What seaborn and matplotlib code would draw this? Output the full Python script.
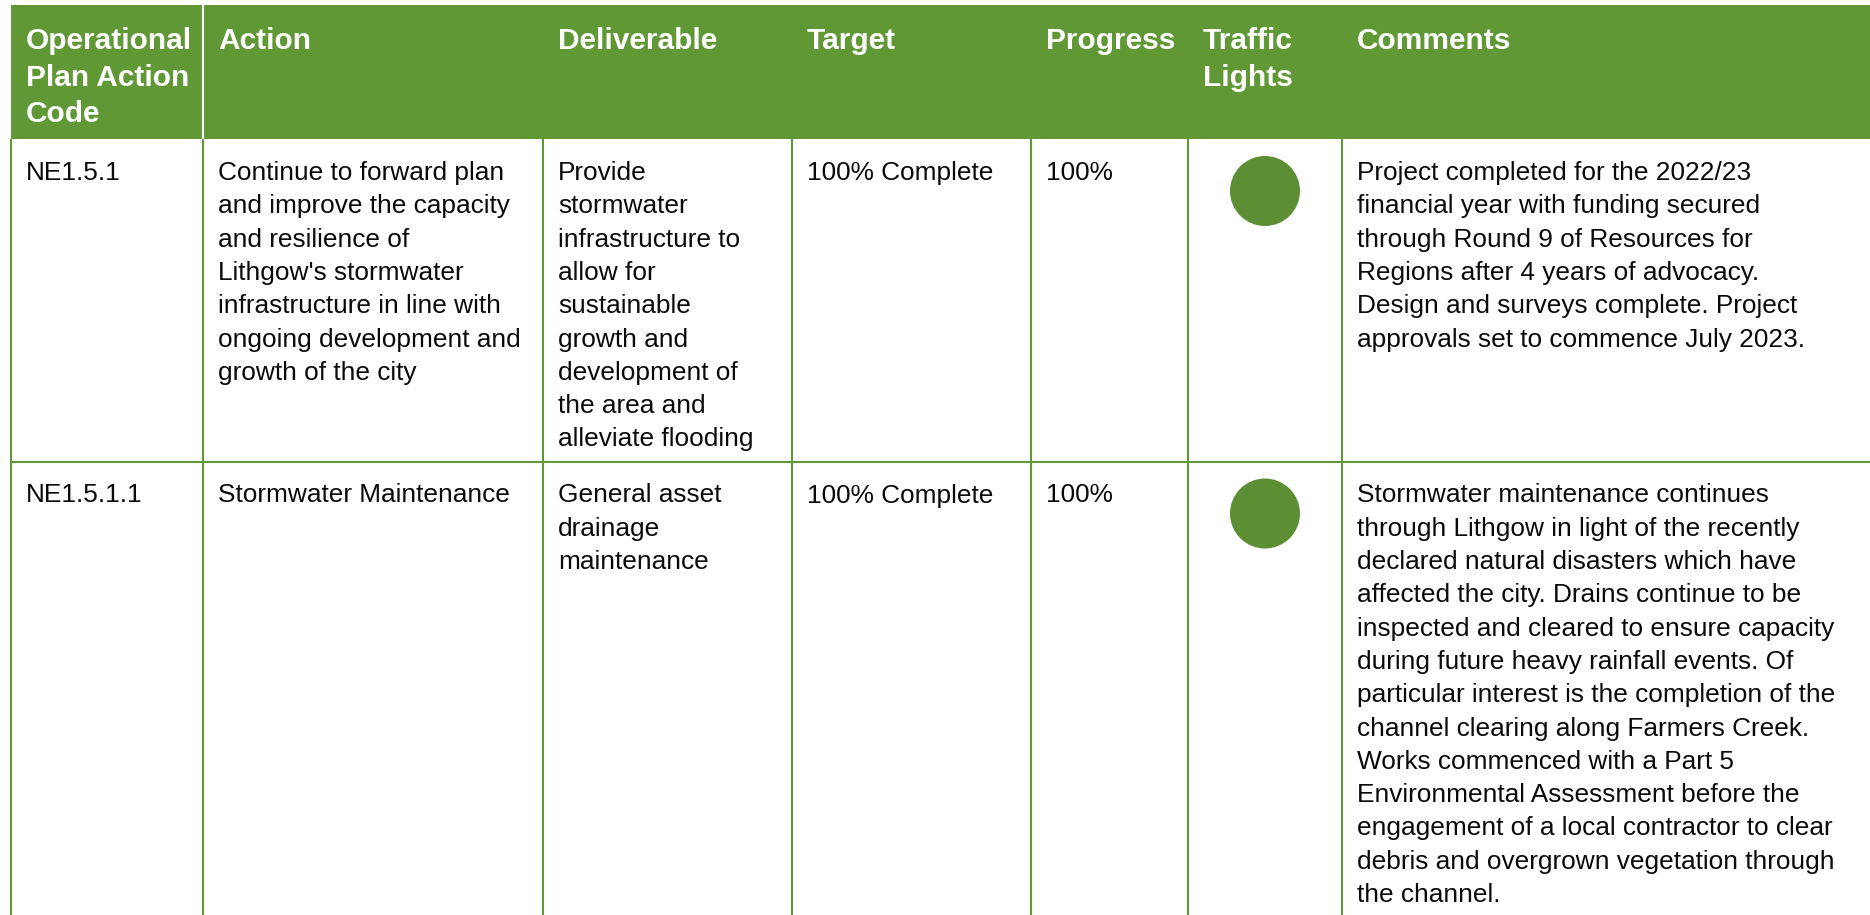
import numpy as np
import pandas as pd
import seaborn as sns
import matplotlib.pyplot as plt
from matplotlib.patches import Rectangle

# ---- table content ----
headers = ["Operational\nPlan Action\nCode", "Action", "Deliverable", "Target",
           "Progress", "Traffic\nLights", "Comments"]
codes = ["NE1.5.1", "NE1.5.1.1"]
actions = ["Continue to forward plan\nand improve the capacity\nand resilience of\n"
           "Lithgow's stormwater\ninfrastructure in line with\nongoing development and\n"
           "growth of the city",
           "Stormwater Maintenance"]
deliverables = ["Provide\nstormwater\ninfrastructure to\nallow for\nsustainable\n"
                "growth and\ndevelopment of\nthe area and\nalleviate flooding",
                "General asset\ndrainage\nmaintenance"]
targets = ["100% Complete", "100% Complete"]
progress = ["100%", "100%"]
lights = ["Green", "Green"]
comments = ["Project completed for the 2022/23\nfinancial year with funding secured\n"
            "through Round 9 of Resources for\nRegions after 4 years of advocacy.\n"
            "Design and surveys complete. Project\napprovals set to commence July 2023.",
            "Stormwater maintenance continues\nthrough Lithgow in light of the recently\n"
            "declared natural disasters which have\naffected the city. Drains continue to be\n"
            "inspected and cleared to ensure capacity\nduring future heavy rainfall events. Of\n"
            "particular interest is the completion of the\nchannel clearing along Farmers Creek.\n"
            "Works commenced with a Part 5\nEnvironmental Assessment before the\n"
            "engagement of a local contractor to clear\ndebris and overgrown vegetation through\n"
            "the channel."]

# ---- layout (pixels) ----
W, H = 1870, 915
col_edges = [11, 203, 543, 792, 1031, 1188, 1342, W]
head_top, head_bot = 5, 139
row_tops = [139, 461.5]
pad_x = 15
green = "#5f9835"
light_green = "#5c8e34"

sns.set_theme(style="white")
plt.rcParams['font.family'] = ['Liberation Sans', 'DejaVu Sans']

fig = plt.figure(figsize=(W / 100, H / 100), dpi=100)
ax = fig.add_axes([0, 0, 1, 1])
ax.set_xlim(0, W)
ax.set_ylim(H, 0)
ax.axis('off')


def cell_text(x, y0, txt, step, **kw):
    for i, line in enumerate(txt.split("\n")):
        ax.text(x, y0 + i * step, line, va='baseline', ha='left', **kw)


# header band
ax.add_patch(Rectangle((col_edges[0], head_top), W - col_edges[0], head_bot - head_top,
                       facecolor=green, edgecolor='none'))
ax.vlines(col_edges[1], head_top, head_bot, color='white', lw=1.5)
for j, h in enumerate(headers):
    cell_text(col_edges[j] + pad_x, 49, h, 36.5, color='white', fontsize=21.5,
              fontweight='bold')

# grid lines
ax.vlines(col_edges[:-1], head_bot, H, color=green, lw=1.5)
ax.hlines(row_tops[1], col_edges[0], W, color=green, lw=1.5)

# body text
columns = [codes, actions, deliverables, targets, progress, None, comments]
for r, top in enumerate(row_tops):
    for j, col in enumerate(columns):
        if col is None:
            continue
        cell_text(col_edges[j] + pad_x, top + 41, col[r], 33.3, color='#0a0a0a',
                  fontsize=18.9)

# traffic lights
df = pd.DataFrame({
    'x': [(col_edges[5] + col_edges[6]) / 2] * len(lights),
    'y': [t + 52 for t in row_tops],
    'status': lights,
})
sns.scatterplot(data=df, x='x', y='y', hue='status', palette={'Green': light_green},
                s=2540, linewidth=0, legend=False, ax=ax)
ax.set_xlim(0, W)
ax.set_ylim(H, 0)
ax.axis('off')

fig.savefig('out.png', dpi=100)
